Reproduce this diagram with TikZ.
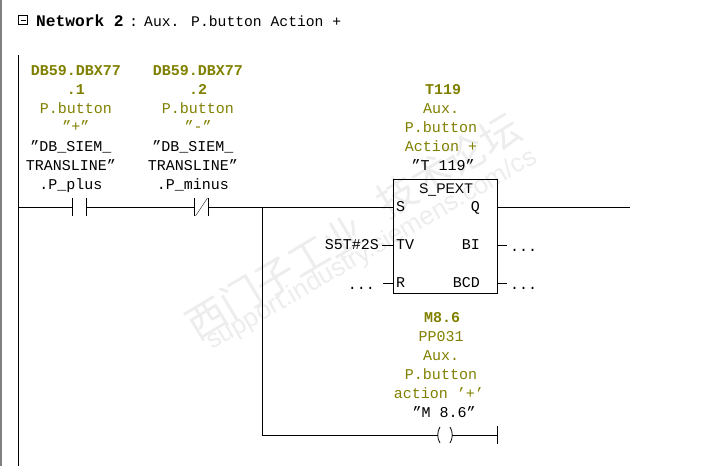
\documentclass[tikz,border=0pt]{standalone}
\usepackage{fontspec}
\setmainfont{Liberation Mono}
\newfontfamily\sansfont{Liberation Sans}
\newfontfamily\cjkfont{Noto Sans CJK SC}
\definecolor{symcolor}{rgb}{0.5,0.5,0}
\definecolor{wmcolor}{rgb}{0.93,0.93,0.93}
\begin{document}
\begin{tikzpicture}[x=1pt,y=-1pt,
  txt/.style={font=\fontsize{15}{15}\selectfont,inner sep=0pt,text height=10pt,text depth=1pt},
  sym/.style={txt,text=symcolor},
  addr/.style={txt,text=symcolor,font=\fontsize{15}{15}\selectfont\bfseries},
  pin/.style={txt},
  bar/.style={draw,thick},
  wm/.style={wmcolor,rotate=31,font=\fontsize{40}{40}\selectfont\cjkfont}]
\useasboundingbox (0,0) rectangle (725,466);

\fill[gray] (0,0) rectangle (1.5,466);

% watermark
\node[wm] (wmA) at (275,277) {西门子工业};
\node[wm] (wmB) at (448,165) {技术论坛};
\node[wmcolor,rotate=30,font=\fontsize{26}{26}\selectfont\sansfont] (wmC) at (372,250) {support.industry.siemens.com/cs};

% title
\draw (18.5,15.5) rectangle (27.5,24.5);
\draw (20.5,20)--(25.5,20);
\node[txt,anchor=base west,font=\fontsize{16.2}{16}\selectfont\bfseries] (title) at (36,26) {Network 2};
\node[txt,anchor=base west] (colon) at (129,26) {:};
\node[txt,anchor=base west,font=\fontsize{14.7}{15}\selectfont] (comment) at (144,26) {Aux. P.button Action +};

% first contact
\node[addr] (adrA) at (76,71) {DB59.DBX77};
\node[addr] (bitA) at (76,90) {.1};
\node[sym] (nameA) at (76,109) {P.button};
\node[sym] (signA) at (76,127) {"+"};
\node[pin] (dbA) at (71,147) {"DB\_SIEM\_};
\node[pin] (tlA) at (71,166) {TRANSLINE"};
\node[pin] (memA) at (71,185) {.P\_plus};

% second contact
\node[addr] (adrB) at (198,71) {DB59.DBX77};
\node[addr] (bitB) at (198,90) {.2};
\node[sym] (nameB) at (198,109) {P.button};
\node[sym] (signB) at (198,127) {"-"};
\node[pin] (dbB) at (193,147) {"DB\_SIEM\_};
\node[pin] (tlB) at (193,166) {TRANSLINE"};
\node[pin] (memB) at (193,185) {.P\_minus};

% timer
\node[addr] (adrT) at (443,90) {T119};
\node[sym] (lineTa) at (441,109) {Aux.};
\node[sym] (lineTb) at (441,128) {P.button};
\node[sym] (lineTc) at (441,147) {Action +};
\node[pin] (symT) at (443,166) {"T 119"};
\node[draw,thick,minimum width=104pt,minimum height=114pt,inner sep=0pt] (pext) at (445,236) {};
\node[font=\fontsize{14}{14}\selectfont\sansfont,inner sep=0pt] (ptype) at (446,190) {S\_PEXT};
\node[pin,anchor=west] (pinS) at (396,207) {S};
\node[pin,anchor=west] (pinTV) at (396,245) {TV};
\node[pin,anchor=west] (pinR) at (396,283) {R};
\node[pin,anchor=east] (pinQ) at (480,207) {Q};
\node[pin,anchor=east] (pinBI) at (480,245) {BI};
\node[pin,anchor=east] (pinBCD) at (480,283) {BCD};
\node[pin,anchor=east] (valTV) at (379,245) {S5T\#2S};
\node[pin,anchor=east] (valR) at (375,285) {...};
\node[pin,anchor=west] (valBI) at (510,247) {...};
\node[pin,anchor=west] (valBCD) at (510,285) {...};

% coil
\node[addr] (adrM) at (442,318) {M8.6};
\node[sym] (lineMa) at (441,337) {PP031};
\node[sym] (lineMb) at (441,356) {Aux.};
\node[sym] (lineMc) at (441,375) {P.button};
\node[sym] (lineMd) at (439,394) {action '+'};
\node[pin] (symM) at (444,413) {"M 8.6"};

\coordinate (railtop) at (18.5,55);
\coordinate (railbot) at (18.5,466);
\coordinate (start) at (18.5,207);
\coordinate (noL) at (72.5,207);
\coordinate (noR) at (86.5,207);
\coordinate (ncL) at (194.5,207);
\coordinate (ncR) at (208.5,207);
\coordinate (fork) at (262.5,207);
\coordinate (corner) at (262.5,435);
\coordinate (coilL) at (438,435);
\coordinate (coilR) at (452,435);
\coordinate (coilend) at (497.5,435);
\coordinate (outQ) at (630,207);

\draw[thick] (railtop)--(railbot);
\draw[thick] (start)--(noL);
\draw[thick] (noR)--(ncL);
\draw[thick] (ncR)--(fork);
\draw[thick] (fork)--(pext.west |- fork);
\draw[thick] (pext.east |- outQ)--(outQ);
\draw[thick] (fork)--(corner)--(coilL);
\draw[thick] (coilR)--(coilend);
\draw[thick] (coilend)++(0,-9)--++(0,18);

% contact bars
\foreach \p in {noL,noR,ncL,ncR}
  \draw[bar] (\p)++(0,-9)--++(0,18);
\draw (ncL)++(1,9)--(207.5,198);

% coil brackets
\draw[thick] (440,427) .. controls (437,431) and (437,439) .. (440,443);
\draw[thick] (450,427) .. controls (453,431) and (453,439) .. (450,443);

% pin stubs
\draw[thick] (valTV.east)++(3,0)--(pext.west |- valTV);
\draw[thick] (383,283)--(pext.west |- pinR);
\draw[thick] (pext.east |- pinBI)--++(10,0);
\draw[thick] (pext.east |- pinBCD)--++(10,0);
\end{tikzpicture}
\end{document}
